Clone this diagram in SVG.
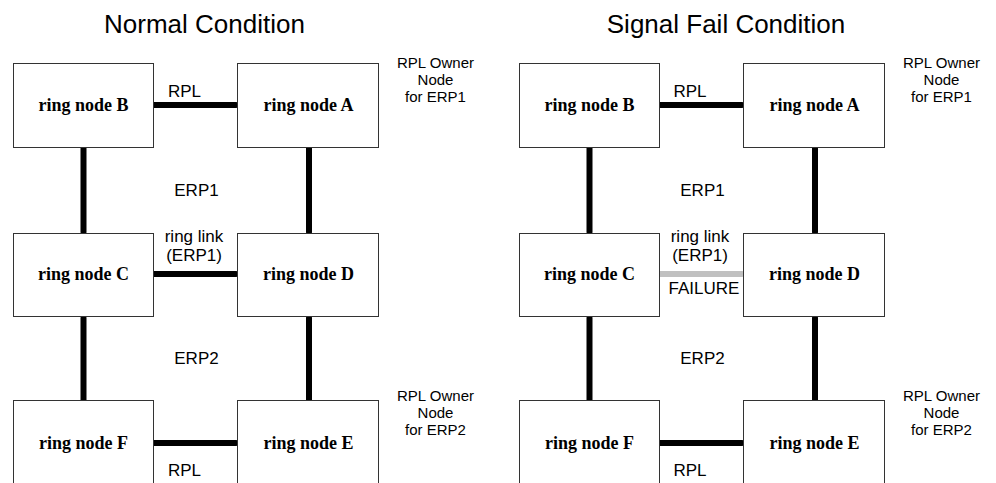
<svg xmlns="http://www.w3.org/2000/svg" width="996" height="483" viewBox="0 0 996 483">
<style>
.box{fill:#fff;stroke:#333;stroke-width:1}
.nl{font-family:"Liberation Serif","Times New Roman",serif;font-weight:bold;font-size:18px;text-anchor:middle;fill:#000}
.lb{font-family:"Liberation Sans",Arial,sans-serif;font-size:17px;text-anchor:middle;fill:#000}
.ow{font-family:"Liberation Sans",Arial,sans-serif;font-size:15px;text-anchor:middle;fill:#000}
.tt{font-family:"Liberation Sans",Arial,sans-serif;font-size:26px;text-anchor:middle;fill:#000}
.lk{stroke:#000;stroke-width:6;stroke-linecap:round;fill:none}
.fl{stroke:#c0c0c0;stroke-width:6;stroke-linecap:round;fill:none}
</style>
<rect width="996" height="483" fill="#fff"/>
<text class="tt" x="204.5" y="33">Normal Condition</text>
<text class="tt" x="726" y="33">Signal Fail Condition</text>

<g id="connectors">
  <line class="lk" x1="154" y1="105" x2="236" y2="105"/>
  <line class="lk" x1="83.5" y1="148" x2="83.5" y2="232"/>
  <line class="lk" x1="309" y1="148" x2="309" y2="232"/>
  <line class="lk" x1="154" y1="274" x2="236" y2="274"/>
  <line class="lk" x1="83.5" y1="318" x2="83.5" y2="400"/>
  <line class="lk" x1="309" y1="318" x2="309" y2="400"/>
  <line class="lk" x1="154" y1="443" x2="236" y2="443"/>

  <line class="lk" x1="660" y1="105" x2="742" y2="105"/>
  <line class="lk" x1="589.5" y1="148" x2="589.5" y2="232"/>
  <line class="lk" x1="815" y1="148" x2="815" y2="232"/>
  <line class="fl" x1="660" y1="274" x2="742" y2="274"/>
  <line class="lk" x1="589.5" y1="318" x2="589.5" y2="400"/>
  <line class="lk" x1="815" y1="318" x2="815" y2="400"/>
  <line class="lk" x1="660" y1="443" x2="742" y2="443"/>
</g>

<g id="L-nodeB"><rect class="box" x="13.5" y="63.5" width="140" height="84"/><text class="nl" x="83.5" y="111">ring node B</text></g>
<g id="L-nodeA"><rect class="box" x="237.5" y="63.5" width="141" height="84"/><text class="nl" x="308.5" y="111">ring node A</text></g>
<g id="L-nodeC"><rect class="box" x="13.5" y="233.5" width="140" height="83"/><text class="nl" x="83.5" y="280">ring node C</text></g>
<g id="L-nodeD"><rect class="box" x="237.5" y="233.5" width="141" height="83"/><text class="nl" x="308.5" y="280">ring node D</text></g>
<g id="L-nodeF"><rect class="box" x="13.5" y="400.5" width="140" height="90"/><text class="nl" x="83.5" y="449">ring node F</text></g>
<g id="L-nodeE"><rect class="box" x="237.5" y="400.5" width="141" height="90"/><text class="nl" x="308.5" y="449">ring node E</text></g>

<g id="R-nodeB"><rect class="box" x="519.5" y="63.5" width="140" height="84"/><text class="nl" x="589.5" y="111">ring node B</text></g>
<g id="R-nodeA"><rect class="box" x="743.5" y="63.5" width="141" height="84"/><text class="nl" x="814.5" y="111">ring node A</text></g>
<g id="R-nodeC"><rect class="box" x="519.5" y="233.5" width="140" height="83"/><text class="nl" x="589.5" y="280">ring node C</text></g>
<g id="R-nodeD"><rect class="box" x="743.5" y="233.5" width="141" height="83"/><text class="nl" x="814.5" y="280">ring node D</text></g>
<g id="R-nodeF"><rect class="box" x="519.5" y="400.5" width="140" height="90"/><text class="nl" x="589.5" y="449">ring node F</text></g>
<g id="R-nodeE"><rect class="box" x="743.5" y="400.5" width="141" height="90"/><text class="nl" x="814.5" y="449">ring node E</text></g>

<g id="labels">
  <text class="lb" x="184.5" y="96.5">RPL</text>
  <text class="lb" x="196.5" y="196">ERP1</text>
  <text class="lb" x="194" y="241.5">ring link</text>
  <text class="lb" x="194" y="261">(ERP1)</text>
  <text class="lb" x="196.5" y="364">ERP2</text>
  <text class="lb" x="184.5" y="476">RPL</text>
  <text class="ow" x="435.5" y="68">RPL Owner</text>
  <text class="ow" x="435.5" y="85">Node</text>
  <text class="ow" x="435.5" y="102">for ERP1</text>
  <text class="ow" x="435.5" y="401">RPL Owner</text>
  <text class="ow" x="435.5" y="418">Node</text>
  <text class="ow" x="435.5" y="435">for ERP2</text>

  <text class="lb" x="690" y="96.5">RPL</text>
  <text class="lb" x="702.5" y="196">ERP1</text>
  <text class="lb" x="700" y="241.5">ring link</text>
  <text class="lb" x="700" y="261">(ERP1)</text>
  <text class="lb" x="704" y="294">FAILURE</text>
  <text class="lb" x="702.5" y="364">ERP2</text>
  <text class="lb" x="690" y="476">RPL</text>
  <text class="ow" x="941.5" y="68">RPL Owner</text>
  <text class="ow" x="941.5" y="85">Node</text>
  <text class="ow" x="941.5" y="102">for ERP1</text>
  <text class="ow" x="941.5" y="401">RPL Owner</text>
  <text class="ow" x="941.5" y="418">Node</text>
  <text class="ow" x="941.5" y="435">for ERP2</text>
</g>
</svg>
